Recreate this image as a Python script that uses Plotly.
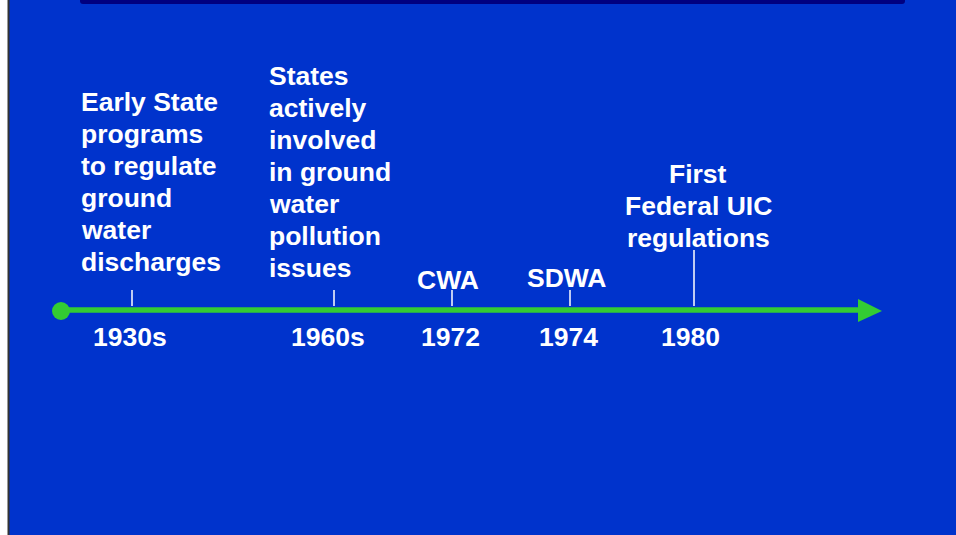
import plotly.graph_objects as go

# ---- data ----
years = ["1930s", "1960s", "1972", "1974", "1980"]
descriptions = [
    ["Early State", "programs", "to regulate", "ground", "water", "discharges"],
    ["States", "actively", "involved", "in ground", "water", "pollution", "issues"],
    ["CWA"],
    ["SDWA"],
    ["First", "Federal UIC", "regulations"],
]

# ---- layout (pixel-space positions) ----
W, H = 956, 535
event_x = [132, 334, 452, 570, 694]
year_label_x = [130, 328, 450, 568, 690]
desc_x = [80, 268, 448, 567, 698]
desc_anchor = ["left", "left", "center", "center", "center"]
desc_bottom_y = [262, 268, 280, 278, 238]
tick_top_y = [290, 290, 290, 290, 250]
LINE_STEP = 32
AXIS_Y = 310
AXIS_X0, AXIS_X1 = 61, 882
YEAR_Y = 337

BLUE = "#0033CC"
GREEN = "#33CC33"
NAVY = "#000080"
FONT = dict(family="Arial, 'Liberation Sans', sans-serif", size=26.5, color="white", weight="bold")

fig = go.Figure()

# timeline axis line
fig.add_trace(go.Scatter(x=[AXIS_X0, AXIS_X1 - 22], y=[AXIS_Y, AXIS_Y], mode="lines",
                         line=dict(color=GREEN, width=5.5), hoverinfo="skip"))
# arrow head
fig.add_trace(go.Scatter(x=[AXIS_X1 - 24, AXIS_X1, AXIS_X1 - 24, AXIS_X1 - 24],
                         y=[AXIS_Y - 11, AXIS_Y + 1, AXIS_Y + 12, AXIS_Y - 11],
                         mode="lines", fill="toself", fillcolor=GREEN,
                         line=dict(color=GREEN, width=0), hoverinfo="skip"))
# start dot
fig.add_trace(go.Scatter(x=[AXIS_X0], y=[AXIS_Y + 1], mode="markers",
                         marker=dict(color=GREEN, size=18, line=dict(width=0)), hoverinfo="skip"))

# tick marks
for x, top in zip(event_x, tick_top_y):
    fig.add_trace(go.Scatter(x=[x, x], y=[top, AXIS_Y - 4], mode="lines",
                             line=dict(color="white", width=1.5), hoverinfo="skip"))

annotations = []
for yr, lx in zip(years, year_label_x):
    annotations.append(dict(x=lx, y=YEAR_Y, text=yr, showarrow=False, xanchor="center",
                            yanchor="middle", font=FONT))
for lines, dx, anc, by in zip(descriptions, desc_x, desc_anchor, desc_bottom_y):
    n = len(lines)
    for i, t in enumerate(lines):
        annotations.append(dict(x=dx, y=by - LINE_STEP * (n - 1 - i), text=t, showarrow=False,
                                xanchor=anc, yanchor="middle", font=FONT, borderpad=0))

shapes = [
    dict(type="rect", x0=0, x1=8, y0=0, y1=H, fillcolor="white", line=dict(width=0), layer="below"),
    dict(type="line", x0=8.5, x1=8.5, y0=0, y1=H, line=dict(color="#333333", width=2), layer="below"),
    dict(type="path", path="M 80,0 L 905,0 L 905,1 Q 905,4 902,4 L 83,4 Q 80,4 80,1 Z",
         fillcolor=NAVY, line=dict(width=0), layer="below"),
]

fig.update_layout(
    width=W, height=H, margin=dict(l=0, r=0, t=0, b=0),
    paper_bgcolor=BLUE, plot_bgcolor=BLUE, showlegend=False,
    xaxis=dict(range=[0, W], visible=False, fixedrange=True),
    yaxis=dict(range=[H, 0], visible=False, fixedrange=True),
    annotations=annotations, shapes=shapes,
)

fig.write_html("out.html", config={"displayModeBar": False, "staticPlot": True},
               post_script="document.body.style.margin='0';document.body.style.overflow='hidden';")
